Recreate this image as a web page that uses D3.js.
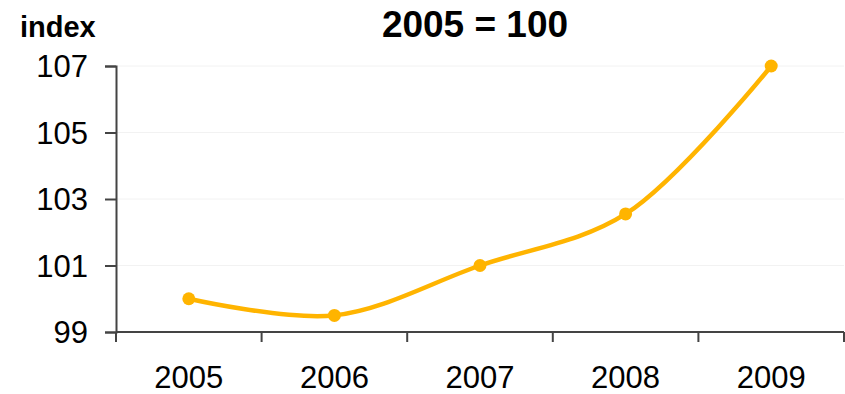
<!DOCTYPE html>
<html lang="en">
  <head>
    <meta charset="utf-8">
    <title>index 2005 = 100</title>
    <script src="https://d3js.org/d3.v7.min.js"></script>
    <style>
      body { margin: 0; background: #fff; }
      text { font-family: "Liberation Sans", Arial, sans-serif; }
    </style>
  </head>
  <body>
    <script>
    // data
    let years = ["2005", "2006", "2007", "2008", "2009"];
    let values = [100, 99.5, 101, 102.55, 107];
    let yTicks = [99, 101, 103, 105, 107];

    let w = 845;
    let h = 394;
    let mLeft = 116, mRight = 844, mTop = 66, mBottom = 332;

    let svg = d3.select("body")
                .append("svg")
                .attr("width", w)
                .attr("height", h);

    let xScale = d3.scaleBand()
                   .domain(years)
                   .range([mLeft, mRight]);

    let yScale = d3.scaleLinear()
                   .domain([99, 107])
                   .range([mBottom, mTop]);

    // faint gridlines
    svg.append("g")
       .selectAll("line")
       .data(yTicks.slice(1))
       .enter()
       .append("line")
       .attr("x1", mLeft)
       .attr("x2", mRight)
       .attr("y1", d => yScale(d))
       .attr("y2", d => yScale(d))
       .attr("stroke", "#f2f2f2")
       .attr("stroke-width", 1);

    // y axis
    let yAxis = svg.append("g")
       .attr("transform", `translate(${mLeft},0)`)
       .call(d3.axisLeft(yScale).tickValues(yTicks).tickSize(11).tickPadding(17));
    yAxis.select(".domain").attr("stroke", "#444").attr("stroke-width", 2);
    yAxis.selectAll(".tick line").attr("stroke", "#444").attr("stroke-width", 2);
    yAxis.selectAll("text")
         .attr("font-size", 31)
         .attr("fill", "#000")
         .attr("dy", "0.35em");

    // x axis, ticks between categories
    let xAxis = svg.append("g")
       .attr("transform", `translate(0,${mBottom})`);
    xAxis.append("line")
         .attr("x1", mLeft).attr("x2", mRight)
         .attr("stroke", "#444").attr("stroke-width", 2);
    let edges = years.map(d => xScale(d)).concat([mRight]);
    xAxis.selectAll(".edge")
         .data(edges)
         .enter()
         .append("line")
         .attr("x1", d => d).attr("x2", d => d)
         .attr("y1", 0).attr("y2", 10)
         .attr("stroke", "#444").attr("stroke-width", 2);
    xAxis.selectAll("text")
         .data(years)
         .enter()
         .append("text")
         .attr("x", d => xScale(d) + xScale.bandwidth() / 2)
         .attr("y", 56)
         .attr("text-anchor", "middle")
         .attr("font-size", 31)
         .attr("fill", "#000")
         .text(d => d);

    // line
    let line = d3.line()
                 .x((d, i) => xScale(years[i]) + xScale.bandwidth() / 2)
                 .y(d => yScale(d))
                 .curve(d3.curveCatmullRom.alpha(0.5));

    svg.append("path")
       .datum(values)
       .attr("d", line)
       .attr("fill", "none")
       .attr("stroke", "#ffb400")
       .attr("stroke-width", 4.5);

    svg.selectAll("circle")
       .data(values)
       .enter()
       .append("circle")
       .attr("cx", (d, i) => xScale(years[i]) + xScale.bandwidth() / 2)
       .attr("cy", d => yScale(d))
       .attr("r", 6.5)
       .attr("fill", "#ffb400");

    // titles
    svg.append("text")
       .attr("x", 20)
       .attr("y", 37)
       .attr("font-size", 29)
       .attr("font-weight", "bold")
       .text("index");

    svg.append("text")
       .attr("x", 475)
       .attr("y", 37)
       .attr("text-anchor", "middle")
       .attr("font-size", 37)
       .attr("font-weight", "bold")
       .text("2005 = 100");
    </script>
  </body>
</html>
